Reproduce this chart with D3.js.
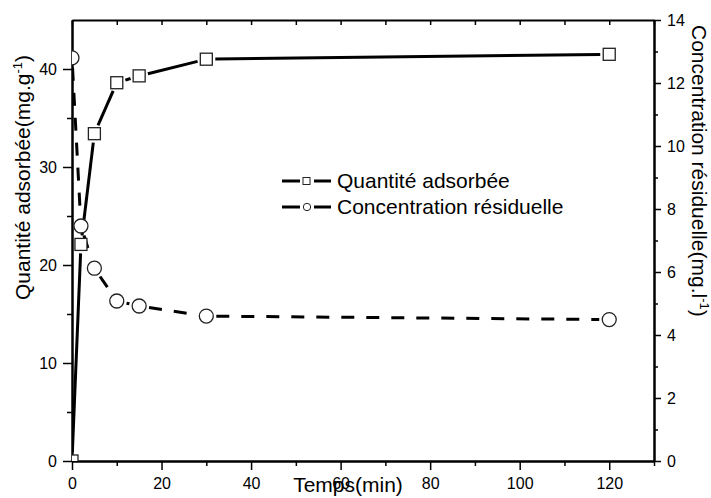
<!DOCTYPE html>
<html>
<head>
<meta charset="utf-8">
<script src="https://cdn.jsdelivr.net/npm/d3@7"></script>
<style>
  body { margin: 0; background: #fff; }
  svg { display: block; font-family: "Liberation Sans", Arial, sans-serif; }
  .tick-label { font-size: 16px; fill: #000; }
  .title { font-size: 21px; fill: #000; }
</style>
</head>
<body>
<div id="chart"></div>
<script>
/****************************************/
/*****  Data   *****/
/****************************************/
const temps = [0, 2, 5, 10, 15, 30, 120];
const quantiteAdsorbee = [0, 22.1, 33.4, 38.6, 39.3, 41.0, 41.5];
const concentrationResiduelle = [12.8, 7.46, 6.12, 5.08, 4.92, 4.6, 4.49];

const xMajorTicks = [0, 20, 40, 60, 80, 100, 120];
const xMinorTicks = [10, 30, 50, 70, 90, 110, 130];
const yLeftMajorTicks = [0, 10, 20, 30, 40];
const yLeftMinorTicks = [5, 15, 25, 35];
const yRightMajorTicks = [0, 2, 4, 6, 8, 10, 12, 14];
const yRightMinorTicks = [1, 3, 5, 7, 9, 11, 13];

/****************************************/
/*****  Setup   *****/
/****************************************/
const width = 711;
const height = 498;
const plotLeft = 72, plotRight = 654, plotTop = 20, plotBottom = 461;

const svg = d3.select('#chart')
  .append('svg')
    .attr('width', width)
    .attr('height', height);

const x = d3.scaleLinear().domain([0, 130]).range([plotLeft, plotRight]);
const yLeft = d3.scaleLinear().domain([0, 45]).range([plotBottom, plotTop]);
const yRight = d3.scaleLinear().domain([0, 14]).range([plotBottom, plotTop]);

svg.append('clipPath')
    .attr('id', 'plot-clip')
  .append('rect')
    .attr('x', plotLeft)
    .attr('y', plotTop)
    .attr('width', plotRight - plotLeft)
    .attr('height', plotBottom - plotTop);

/****************************************/
/*****  Axes   *****/
/****************************************/
function styleAxis(g) {
  g.select('.domain').attr('stroke', '#000').attr('stroke-width', 2);
  g.selectAll('.tick line').attr('stroke', '#000').attr('stroke-width', 1.5);
  g.selectAll('.tick text').attr('class', 'tick-label').attr('fill', '#000');
}

// bottom
svg.append('g')
    .attr('transform', `translate(0,${plotBottom})`)
    .call(d3.axisBottom(x).tickValues(xMinorTicks).tickSize(5).tickFormat('').tickSizeOuter(0))
    .call(styleAxis);
svg.append('g')
    .attr('transform', `translate(0,${plotBottom})`)
    .call(d3.axisBottom(x).tickValues(xMajorTicks).tickSize(9).tickPadding(8).tickSizeOuter(0))
    .call(styleAxis);

// top, ticks pointing inside
svg.append('g')
    .attr('transform', `translate(0,${plotTop})`)
    .call(d3.axisBottom(x).tickValues(xMinorTicks.concat(xMajorTicks)).tickSize(5).tickFormat('').tickSizeOuter(0))
    .call(styleAxis);

// left
svg.append('g')
    .attr('transform', `translate(${plotLeft},0)`)
    .call(d3.axisLeft(yLeft).tickValues(yLeftMinorTicks).tickSize(5).tickFormat('').tickSizeOuter(0))
    .call(styleAxis);
svg.append('g')
    .attr('transform', `translate(${plotLeft},0)`)
    .call(d3.axisLeft(yLeft).tickValues(yLeftMajorTicks).tickSize(9).tickPadding(6).tickSizeOuter(0))
    .call(styleAxis);

// right
svg.append('g')
    .attr('transform', `translate(${plotRight},0)`)
    .call(d3.axisRight(yRight).tickValues(yRightMinorTicks).tickSize(4).tickFormat('').tickSizeOuter(0))
    .call(styleAxis);
svg.append('g')
    .attr('transform', `translate(${plotRight},0)`)
    .call(d3.axisRight(yRight).tickValues(yRightMajorTicks).tickSize(7).tickPadding(6).tickSizeOuter(0))
    .call(styleAxis);

/****************************************/
/*****  Series   *****/
/****************************************/
const plot = svg.append('g')
    .attr('clip-path', 'url(#plot-clip)');

// Origin-style lines stop short of the markers, so each segment is shrunk at both ends
function segments(values, yScale, gap) {
  const pts = temps.map((t, i) => [x(t), yScale(values[i])]);
  const segs = [];
  for (let i = 0; i < pts.length - 1; i++) {
    const [x1, y1] = pts[i], [x2, y2] = pts[i + 1];
    const len = Math.hypot(x2 - x1, y2 - y1);
    if (len <= 2 * gap) continue;
    const ux = (x2 - x1) / len, uy = (y2 - y1) / len;
    segs.push([x1 + ux * gap, y1 + uy * gap, x2 - ux * gap, y2 - uy * gap]);
  }
  return segs;
}

plot.selectAll('.seg-q')
  .data(segments(quantiteAdsorbee, yLeft, 9))
  .join('line')
    .attr('class', 'seg-q')
    .attr('x1', d => d[0]).attr('y1', d => d[1])
    .attr('x2', d => d[2]).attr('y2', d => d[3])
    .attr('stroke', '#000')
    .attr('stroke-width', 3);

plot.selectAll('.seg-c')
  .data(segments(concentrationResiduelle, yRight, 10))
  .join('line')
    .attr('class', 'seg-c')
    .attr('x1', d => d[0]).attr('y1', d => d[1])
    .attr('x2', d => d[2]).attr('y2', d => d[3])
    .attr('stroke', '#000')
    .attr('stroke-width', 3)
    .attr('stroke-dasharray', '13,12');

plot.selectAll('.mark-q')
  .data(temps)
  .join('rect')
    .attr('class', 'mark-q')
    .attr('x', (d, i) => x(d) - 6)
    .attr('y', (d, i) => yLeft(quantiteAdsorbee[i]) - 6)
    .attr('width', 12)
    .attr('height', 12)
    .attr('fill', '#fff')
    .attr('stroke', '#222')
    .attr('stroke-width', 1.3);

plot.selectAll('.mark-c')
  .data(temps)
  .join('circle')
    .attr('class', 'mark-c')
    .attr('cx', d => x(d))
    .attr('cy', (d, i) => yRight(concentrationResiduelle[i]))
    .attr('r', 7)
    .attr('fill', '#fff')
    .attr('stroke', '#222')
    .attr('stroke-width', 1.3);

/****************************************/
/*****  Titles   *****/
/****************************************/
svg.append('text')
    .attr('class', 'title')
    .attr('x', 348)
    .attr('y', 492)
    .attr('text-anchor', 'middle')
    .text('Temps(min)');

function titleWithSup(g, main, sup) {
  g.append('tspan').text(main);
  g.append('tspan').attr('dy', -8).style('font-size', '13px').text(sup);
  g.append('tspan').attr('dy', 8).text(')');
}

svg.append('text')
    .attr('class', 'title')
    .attr('transform', 'translate(30,300) rotate(-90)')
    .call(titleWithSup, 'Quantité adsorbée(mg.g', '-1');

svg.append('text')
    .attr('class', 'title')
    .attr('transform', 'translate(692,25) rotate(90)')
    .call(titleWithSup, 'Concentration résiduelle(mg.l', '-1');

/****************************************/
/*****  Legend   *****/
/****************************************/
const legendItems = [
  { label: 'Quantité adsorbée', shape: 'square', y: 181 },
  { label: 'Concentration résiduelle', shape: 'circle', y: 207 }
];

const legend = svg.append('g')
  .selectAll('.legend-item')
  .data(legendItems)
  .join('g')
    .attr('class', 'legend-item')
    .attr('transform', d => `translate(0,${d.y})`);

legend.append('line')
    .attr('x1', 282).attr('x2', 300)
    .attr('stroke', '#000').attr('stroke-width', 3);
legend.append('line')
    .attr('x1', 314).attr('x2', 331)
    .attr('stroke', '#000').attr('stroke-width', 3);

legend.filter(d => d.shape === 'square')
  .append('rect')
    .attr('x', 303).attr('y', -3.5)
    .attr('width', 7).attr('height', 7)
    .attr('fill', '#fff').attr('stroke', '#222').attr('stroke-width', 1);
legend.filter(d => d.shape === 'circle')
  .append('circle')
    .attr('cx', 307).attr('r', 3.7)
    .attr('fill', '#fff').attr('stroke', '#222').attr('stroke-width', 1);

legend.append('text')
    .attr('class', 'title')
    .attr('x', 337)
    .attr('dy', '0.35em')
    .text(d => d.label);
</script>
</body>
</html>
